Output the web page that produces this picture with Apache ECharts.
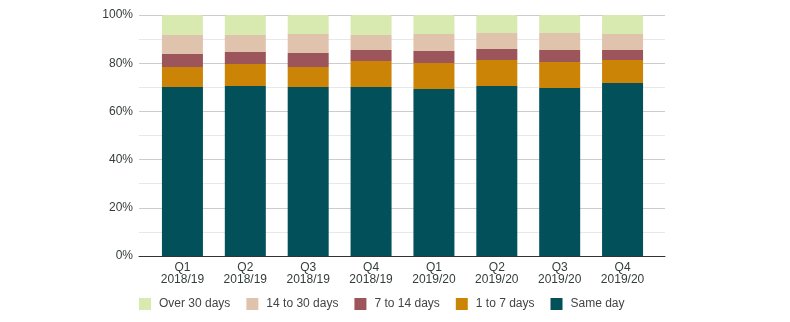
<!DOCTYPE html>
<html>
<head>
<meta charset="utf-8">
<script src="https://cdn.jsdelivr.net/npm/echarts@6/dist/echarts.min.js"></script>
<style>
  html, body { margin: 0; padding: 0; background: #fff; }
  #chart { width: 790px; height: 322px; }
</style>
</head>
<body>
<div id="chart"></div>
<script>
// Quarterly share of cases by time taken (percent of total)
const categories = ['Q1\n2018/19', 'Q2\n2018/19', 'Q3\n2018/19', 'Q4\n2018/19',
                    'Q1\n2019/20', 'Q2\n2019/20', 'Q3\n2019/20', 'Q4\n2019/20'];
const sameDay    = [70.1, 70.5, 70.1, 70.1, 69.3, 70.5, 69.7, 71.8];
const oneToSeven = [8.3, 9.2, 8.3, 10.8, 10.8, 10.8, 10.8, 9.5];
const sevenTo14  = [5.4, 4.9, 5.8, 4.6, 5.0, 4.6, 5.0, 4.2];
const fourteenTo30 = [7.9, 7.1, 7.9, 6.2, 7.0, 6.6, 7.0, 6.6];
const over30     = [8.3, 8.3, 7.9, 8.3, 7.9, 7.5, 7.5, 7.9];
const yTicks = [0, 20, 40, 60, 80, 100];

const textColor = '#333d3a';
const font = 'Liberation Sans, Arial, sans-serif';

const seriesDefs = [
  { name: 'Same day',     data: sameDay,      color: '#02505a' },
  { name: '1 to 7 days',  data: oneToSeven,   color: '#cc8406' },
  { name: '7 to 14 days', data: sevenTo14,    color: '#9c555a' },
  { name: '14 to 30 days', data: fourteenTo30, color: '#dfc3ad' },
  { name: 'Over 30 days', data: over30,       color: '#d8eab0' }
];

const chart = echarts.init(document.getElementById('chart'), null, { renderer: 'canvas' });

chart.setOption({
  animation: false,
  backgroundColor: '#ffffff',
  textStyle: { fontFamily: font },
  grid: [
    // wide grid: gridlines and baseline
    { left: 139, right: 125, top: 15, bottom: 66 },
    // inner grid: bars
    { left: 151, right: 136, top: 15, bottom: 66 }
  ],
  legend: {
    data: ['Over 30 days', '14 to 30 days', '7 to 14 days', '1 to 7 days', 'Same day'],
    left: 139,
    top: 298,
    padding: 0,
    itemWidth: 12,
    itemHeight: 12,
    itemGap: 16,
    icon: 'rect',
    textStyle: { color: '#444', fontSize: 12, fontFamily: font, padding: [0, 0, 0, 3] }
  },
  xAxis: [
    {
      gridIndex: 0, type: 'value', min: 0, max: 1,
      axisLine: { show: true, lineStyle: { color: '#333', width: 1 } },
      axisTick: { show: false }, axisLabel: { show: false }, splitLine: { show: false }
    },
    {
      gridIndex: 1, type: 'category', data: categories,
      axisLine: { show: false }, axisTick: { show: false },
      axisLabel: { color: textColor, fontSize: 12, lineHeight: 12, margin: 6, fontFamily: font, interval: 0 }
    }
  ],
  yAxis: [
    {
      gridIndex: 0, type: 'value', min: yTicks[0], max: yTicks[yTicks.length - 1], interval: 20,
      axisLine: { show: false }, axisTick: { show: false },
      axisLabel: { color: textColor, fontSize: 12, margin: 6, fontFamily: font, formatter: '{value}%' },
      splitLine: { show: true, lineStyle: { color: '#cccccc', width: 1 } },
      minorTick: { show: false, splitNumber: 2 },
      minorSplitLine: { show: true, lineStyle: { color: '#e8e8e8', width: 1 } }
    },
    {
      gridIndex: 1, type: 'value', min: 0, max: 100, show: false,
      splitLine: { show: false }
    }
  ],
  series: seriesDefs.map((s, i) => ({
    name: s.name,
    type: 'bar',
    stack: 'total',
    xAxisIndex: 1,
    yAxisIndex: 1,
    barWidth: 41,
    data: s.data,
    itemStyle: {
      color: s.color,
      borderRadius: i === seriesDefs.length - 1 ? [2, 2, 0, 0] : 0
    },
    z: 3
  }))
});
</script>
</body>
</html>
